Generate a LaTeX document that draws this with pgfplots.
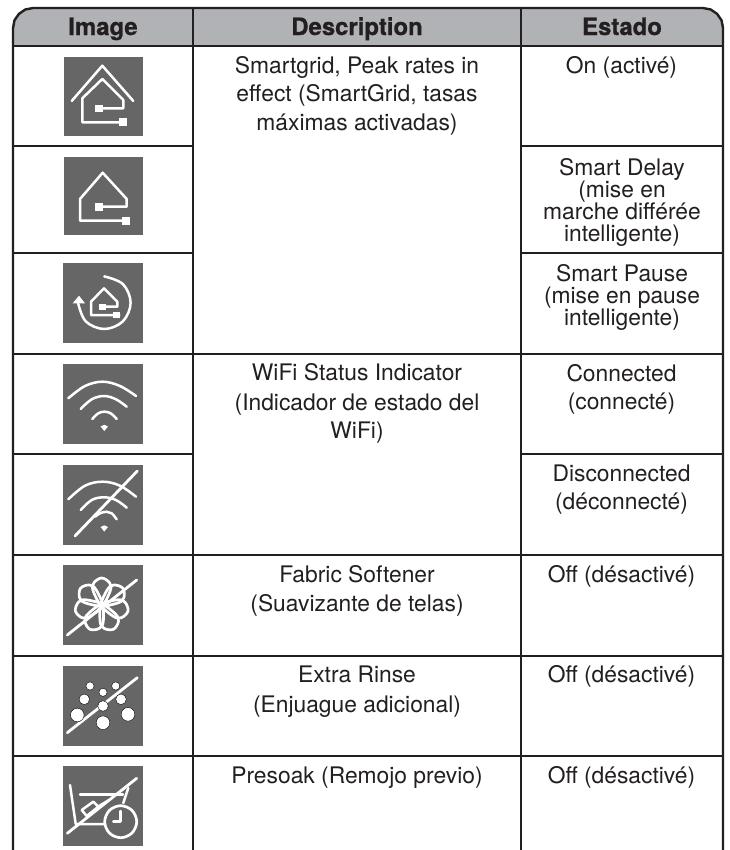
\documentclass[border=0pt]{standalone}
\usepackage{fontspec}
\setmainfont{TeX Gyre Heros}
\newfontfamily\hdf{TeX Gyre Heros}[BoldFeatures={FakeBold=0.8}]
\usepackage{pgfplots}
\pgfplotsset{compat=1.18}
\definecolor{rule}{HTML}{231F20}
\definecolor{head}{HTML}{B0B2B5}
\definecolor{ico}{HTML}{666666}
\newcommand{\BD}[3]{\node[anchor=base,text=rule,font=\fontsize{22.9}{22.9}\selectfont] at (axis cs:#1,#2) {#3};}
\newcommand{\HD}[2]{\node[anchor=base,text=rule,font=\hdf\fontsize{24}{24}\selectfont\bfseries] at (axis cs:#1,35) {#2};}
\pgfplotsset{
 sq/.style={draw=none,fill=ico,forget plot},
 ln/.style={draw=white,line width=2.5bp,line cap=round,line join=round,mark=none,forget plot},
 cv/.style={ln,smooth,tension=0.6},
 fw/.style={draw=white,fill=none,line width=2.7bp,mark=none,smooth cycle,tension=0.6,forget plot},
 pip/.style={draw=none,fill=white,forget plot},
 rl/.style={draw=rule,line width=2.4bp,mark=none,forget plot},
}
\begin{document}
\begin{tikzpicture}
\begin{axis}[scale only axis,width=729bp,height=850bp,xmin=0,xmax=729,ymin=0,ymax=850,y dir=reverse,axis lines=none,ticks=none,clip=true]
% page background, holds the page size
\addplot[draw=none,fill=white,forget plot] coordinates {(0,0)(729,0)(729,850)(0,850)} -- cycle;
% header
\addplot[draw=none,fill=head,forget plot] coordinates {(13,46)(13,28)(14.5,20.3)(18.9,13.9)(25.3,9.5)(33,8)(703,8)(710.7,9.5)(717.1,13.9)(721.5,20.3)(723,28)(723,46)} -- cycle;
% frame
\addplot[rl] coordinates {(13,850)(13,28)(14.5,20.3)(18.9,13.9)(25.3,9.5)(33,8)(703,8)(710.7,9.5)(717.1,13.9)(721.5,20.3)(723,28)(723,850)};
\addplot[rl] coordinates {(193,8)(193,850)};
\addplot[rl] coordinates {(521,8)(521,850)};
\addplot[rl] coordinates {(13,46)(723,46)};
\addplot[rl] coordinates {(13,146)(193,146)};
\addplot[rl] coordinates {(521,146)(723,146)};
\addplot[rl] coordinates {(13,253)(193,253)};
\addplot[rl] coordinates {(521,253)(723,253)};
\addplot[rl] coordinates {(13,354)(723,354)};
\addplot[rl] coordinates {(13,454)(193,454)};
\addplot[rl] coordinates {(521,454)(723,454)};
\addplot[rl] coordinates {(13,555)(723,555)};
\addplot[rl] coordinates {(13,656)(723,656)};
\addplot[rl] coordinates {(13,756)(723,756)};
% icon squares
\addplot[sq] coordinates {(64,57)(143,57)(143,136)(64,136)} -- cycle;
\addplot[sq] coordinates {(64,157)(143,157)(143,235)(64,235)} -- cycle;
\addplot[sq] coordinates {(63,263)(143,263)(143,343)(63,343)} -- cycle;
\addplot[sq] coordinates {(63,364)(143,364)(143,444)(63,444)} -- cycle;
\addplot[sq] coordinates {(63,465)(143,465)(143,545)(63,545)} -- cycle;
\addplot[sq] coordinates {(63,565)(143,565)(143,645)(63,645)} -- cycle;
\addplot[sq] coordinates {(63,666)(143,666)(143,746)(63,746)} -- cycle;
\addplot[sq] coordinates {(63,766)(143,766)(143,846)(63,846)} -- cycle;
% icon 1
\addplot[ln] coordinates {(71.7,101)(102.3,65.7)(133.3,101)};
\addplot[ln] coordinates {(122.3,122.3)(82.3,122.3)(82.3,98.3)(102.3,79)(123.3,100)(123.3,108.3)(98.3,108.3)};
\addplot[pip] coordinates {(94.5,104.5)(102.5,104.5)(102.5,112)(94.5,112)} -- cycle;
\addplot[pip] coordinates {(118.5,118)(126.5,118)(126.5,125.5)(118.5,125.5)} -- cycle;
% icon 2
\addplot[ln] coordinates {(125.7,220.7)(80,220.7)(80,199)(102.7,172.7)(126.7,199)(126.7,206.7)(98.3,206.7)};
\addplot[pip] coordinates {(94.5,202.5)(102.5,202.5)(102.5,210.5)(94.5,210.5)} -- cycle;
\addplot[pip] coordinates {(121.5,217)(129.5,217)(129.5,225)(121.5,225)} -- cycle;
% icon 3
\addplot[cv] coordinates {(104.3,276.4)(122.9,284.1)(130.6,302.7)(122.9,321.3)(104.3,329)(85.7,321.3)(78,302.7)};
\addplot[pip] coordinates {(79,295.7)(85,303.3)(72.7,303.3)} -- cycle;
\addplot[ln] coordinates {(119.3,315)(91,315)(91,301.7)(104,288.3)(117.3,301.7)(117.3,306.7)(100,306.7)};
\addplot[pip] coordinates {(98.8,304)(106,304)(106,309.5)(98.8,309.5)} -- cycle;
\addplot[pip] coordinates {(113,312)(120,312)(120,318)(113,318)} -- cycle;
% icon 4
\addplot[cv] coordinates {(68.3,398.3)(85,386)(102.7,381.7)(120,386)(136,396)};
\addplot[cv] coordinates {(80.7,409)(91.7,399.3)(104,396)(116,399.3)(126.7,406.7)};
\addplot[cv] coordinates {(92.3,419)(98.3,413.3)(104.3,411.7)(110.7,413.3)(116.7,419)};
\addplot[pip] coordinates {(100.5,426.5)(104.3,424.8)(108,426.5)(104.3,431)} -- cycle;
% icon 5
\addplot[cv] coordinates {(68.3,499.3)(85,485.7)(102.7,481.7)(120,485.7)(136,496.7)};
\addplot[cv] coordinates {(80.7,510)(91.7,500)(104,497.3)(116,500)(126.7,507.7)};
\addplot[cv] coordinates {(95,516.7)(100,513.3)(106.7,511.7)(111.7,513.3)(116.7,519.3)};
\addplot[pip] coordinates {(100.5,527)(104.3,525.3)(108,527)(104.3,531.5)} -- cycle;
\addplot[ln,line width=2.8bp] coordinates {(75,536)(137.3,471)};
% icon 6
\addplot[fw] coordinates {(101.7,605)(93.2,591)(93.7,583)(101.7,578)(109.7,583)(110.2,591)};
\addplot[fw] coordinates {(101.7,605)(107.35,589.63)(113.9,585)(122.8,588.2)(123.9,597.55)(118,602.9)};
\addplot[fw] coordinates {(101.7,605)(117.25,599.83)(124.9,602.1)(128,611)(121.4,617.7)(113.45,616.4)};
\addplot[fw] coordinates {(101.7,605)(115.4,613.9)(118.5,621.35)(113.4,629.3)(104,628.3)(100.1,621.3)};
\addplot[fw] coordinates {(101.7,605)(103.3,621.3)(99.4,628.3)(90,629.3)(84.9,621.35)(88,613.9)};
\addplot[fw] coordinates {(101.7,605)(89.95,616.4)(82,617.7)(75.4,611)(78.5,602.1)(86.15,599.83)};
\addplot[fw] coordinates {(101.7,605)(85.4,602.9)(79.5,597.55)(80.6,588.2)(89.5,585)(96.05,589.63)};
\addplot[ln,line width=2.8bp] coordinates {(67.3,635)(136.7,580)};
% icon 7
\addplot[only marks,mark=*,mark size=4.1bp,mark options={draw=none,fill=white},forget plot] coordinates {(90,686)(115.7,686)(103,692.3)};
\addplot[only marks,mark=*,mark size=5.3bp,mark options={draw=none,fill=white},forget plot] coordinates {(84.3,699.3)(121,699.3)(103,706)};
\addplot[only marks,mark=*,mark size=6.8bp,mark options={draw=none,fill=white},forget plot] coordinates {(77.3,715)(128,714.3)(103,722.7)};
\addplot[ln,line width=2.8bp] coordinates {(67.3,732.7)(137.3,677.7)};
% icon 8
\addplot[ln] coordinates {(70,785)(75.7,824)(105,824)};
\addplot[ln] coordinates {(80,794.3)(123,794.3)};
\addplot[ln] coordinates {(128.3,788)(123.3,803)};
\addplot[ln] coordinates {(81.7,810)(93.3,801.7)(98.3,806.7)(86.7,816)(81.7,810)};
\addplot[ln] coordinates {(99,806)(108.3,800.5)};
\addplot[fw] coordinates {(120.7,805.7)(132,810.4)(136.7,821.7)(132,833)(120.7,837.7)(109.4,833)(104.7,821.7)(109.4,810.4)};
\addplot[ln] coordinates {(120.7,811)(120.7,821.7)(113.3,821.7)};
\addplot[ln,line width=2.8bp] coordinates {(67.3,833.3)(136.7,778.3)};
% text
\HD{103}{Image}
\HD{357}{Description}
\HD{622}{Estado}
\BD{357}{73.3}{Smartgrid, Peak rates in}
\BD{357}{101.7}{effect (SmartGrid, tasas}
\BD{357}{130.7}{máximas activadas)}
\BD{357}{380.7}{WiFi Status Indicator}
\BD{357}{410}{(Indicador de estado del}
\BD{357}{438.3}{WiFi)}
\BD{357}{582.7}{Fabric Softener}
\BD{357}{611.7}{(Suavizante de telas)}
\BD{357}{682.7}{Extra Rinse}
\BD{357}{712.7}{(Enjuague adicional)}
\BD{357}{783.3}{Presoak (Remojo previo)}
\BD{621.5}{73.3}{On (activé)}
\BD{622}{175}{Smart Delay}
\BD{622}{197}{(mise en}
\BD{622}{219}{marche différée}
\BD{622}{241.5}{intelligente)}
\BD{622}{281}{Smart Pause}
\BD{622}{303}{(mise en pause}
\BD{622}{325.5}{intelligente)}
\BD{621.5}{381}{Connected}
\BD{621.5}{409}{(connecté)}
\BD{621.5}{481}{Disconnected}
\BD{621.5}{509}{(déconnecté)}
\BD{621.5}{582.7}{Off (désactivé)}
\BD{621.5}{682.7}{Off (désactivé)}
\BD{621.5}{783.3}{Off (désactivé)}
\end{axis}
\end{tikzpicture}
\end{document}
